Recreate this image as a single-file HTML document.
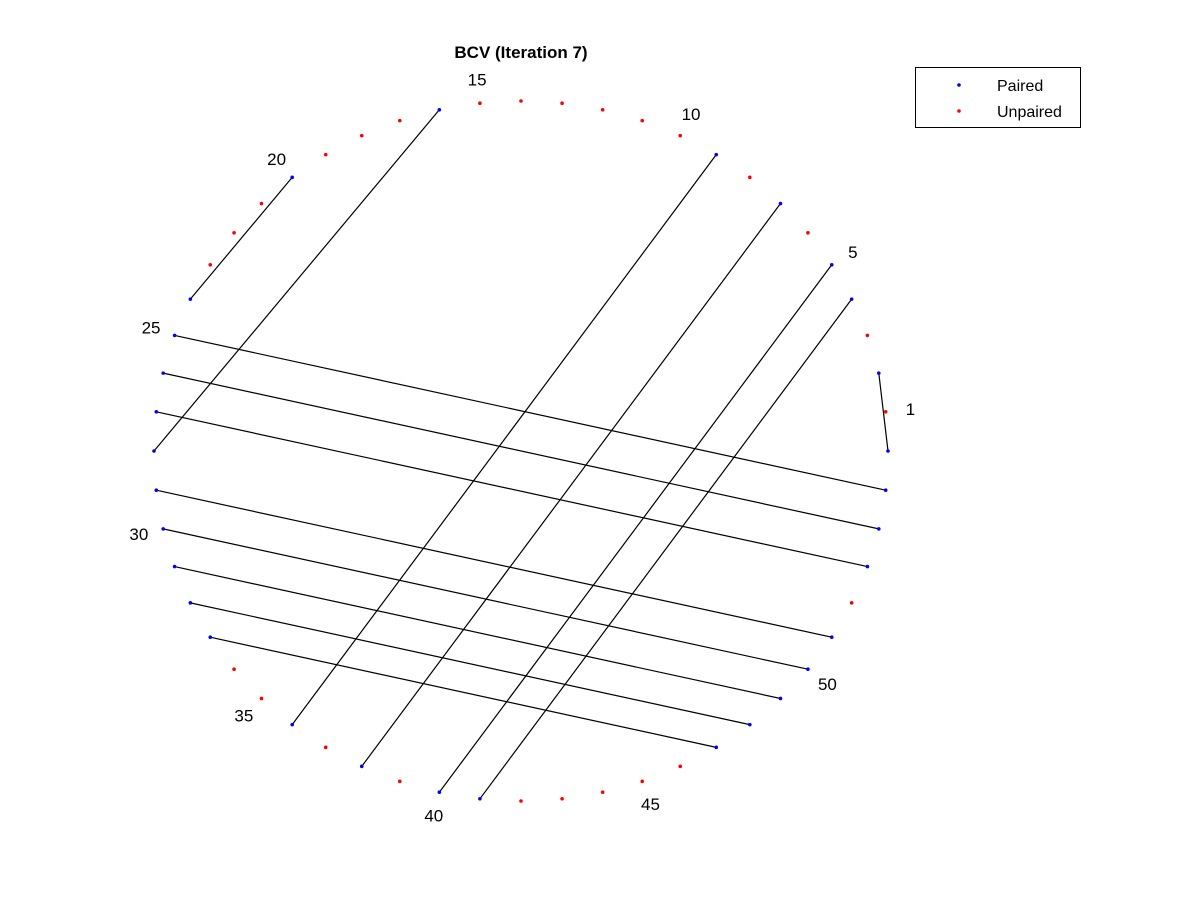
<!DOCTYPE html>
<html><head><meta charset="utf-8"><style>
body{margin:0;background:#fff;}
svg{display:block;font-family:"Liberation Sans",Arial,sans-serif;}
</style></head><body>
<svg id="chart" width="1200" height="900">
<rect width="1200" height="900" fill="#fff"/>
<text x="521" y="58" text-anchor="middle" font-size="17" font-weight="bold">BCV (Iteration 7)</text>
<g id="lines"></g><g id="pts"></g><g id="labels"></g>
<g>
<rect x="915.5" y="67.5" width="165" height="60" fill="#fff" stroke="#000" stroke-width="1"/>
<circle cx="959" cy="85" r="1.8" fill="#0000ff"/>
<text x="997" y="91" font-size="16">Paired</text>
<circle cx="959" cy="111" r="1.8" fill="#ff0000"/>
<text x="997" y="117" font-size="16">Unpaired</text>
</g>
</svg>
<script>
const N = 56;
const pairsA = [2,4,5,7,9,16,20,25,26,27,29,30,31,32,33];
const pairsB = [56,41,40,38,36,28,24,55,54,53,51,50,49,48,47];
const labelIdx = [1,5,10,15,20,25,30,35,40,45,50];
const cx=521, cy=451, rx=367, ry=350;
const ns="http://www.w3.org/2000/svg";
function pos(i,f){const a=2*Math.PI*i/N;return [cx+rx*f*Math.cos(a), cy-ry*f*Math.sin(a)];}
const paired=new Set([...pairsA,...pairsB]);
const L=document.getElementById('lines'),P=document.getElementById('pts'),T=document.getElementById('labels');
for(let k=0;k<pairsA.length;k++){
  const [x1,y1]=pos(pairsA[k],1),[x2,y2]=pos(pairsB[k],1);
  const l=document.createElementNS(ns,'line');
  l.setAttribute('x1',x1);l.setAttribute('y1',y1);l.setAttribute('x2',x2);l.setAttribute('y2',y2);
  l.setAttribute('stroke','#000');l.setAttribute('stroke-width','1.2');
  
  
  L.appendChild(l);
}
for(let i=1;i<=N;i++){
  const [x,y]=pos(i,1);
  const c=document.createElementNS(ns,'circle');
  c.setAttribute('cx',x);c.setAttribute('cy',y);c.setAttribute('r','1.8');
  c.setAttribute('fill',paired.has(i)?'#0000ff':'#ff0000');
  
  
  P.appendChild(c);
}
labelIdx.forEach(i=>{
  const [x,y]=pos(i,1.068);
  const t=document.createElementNS(ns,'text');
  t.setAttribute('x',x);t.setAttribute('y',y+6);t.setAttribute('text-anchor','middle');
  t.setAttribute('font-size','17');t.textContent=i;
  
  
  T.appendChild(t);
});
</script>
</body></html>
